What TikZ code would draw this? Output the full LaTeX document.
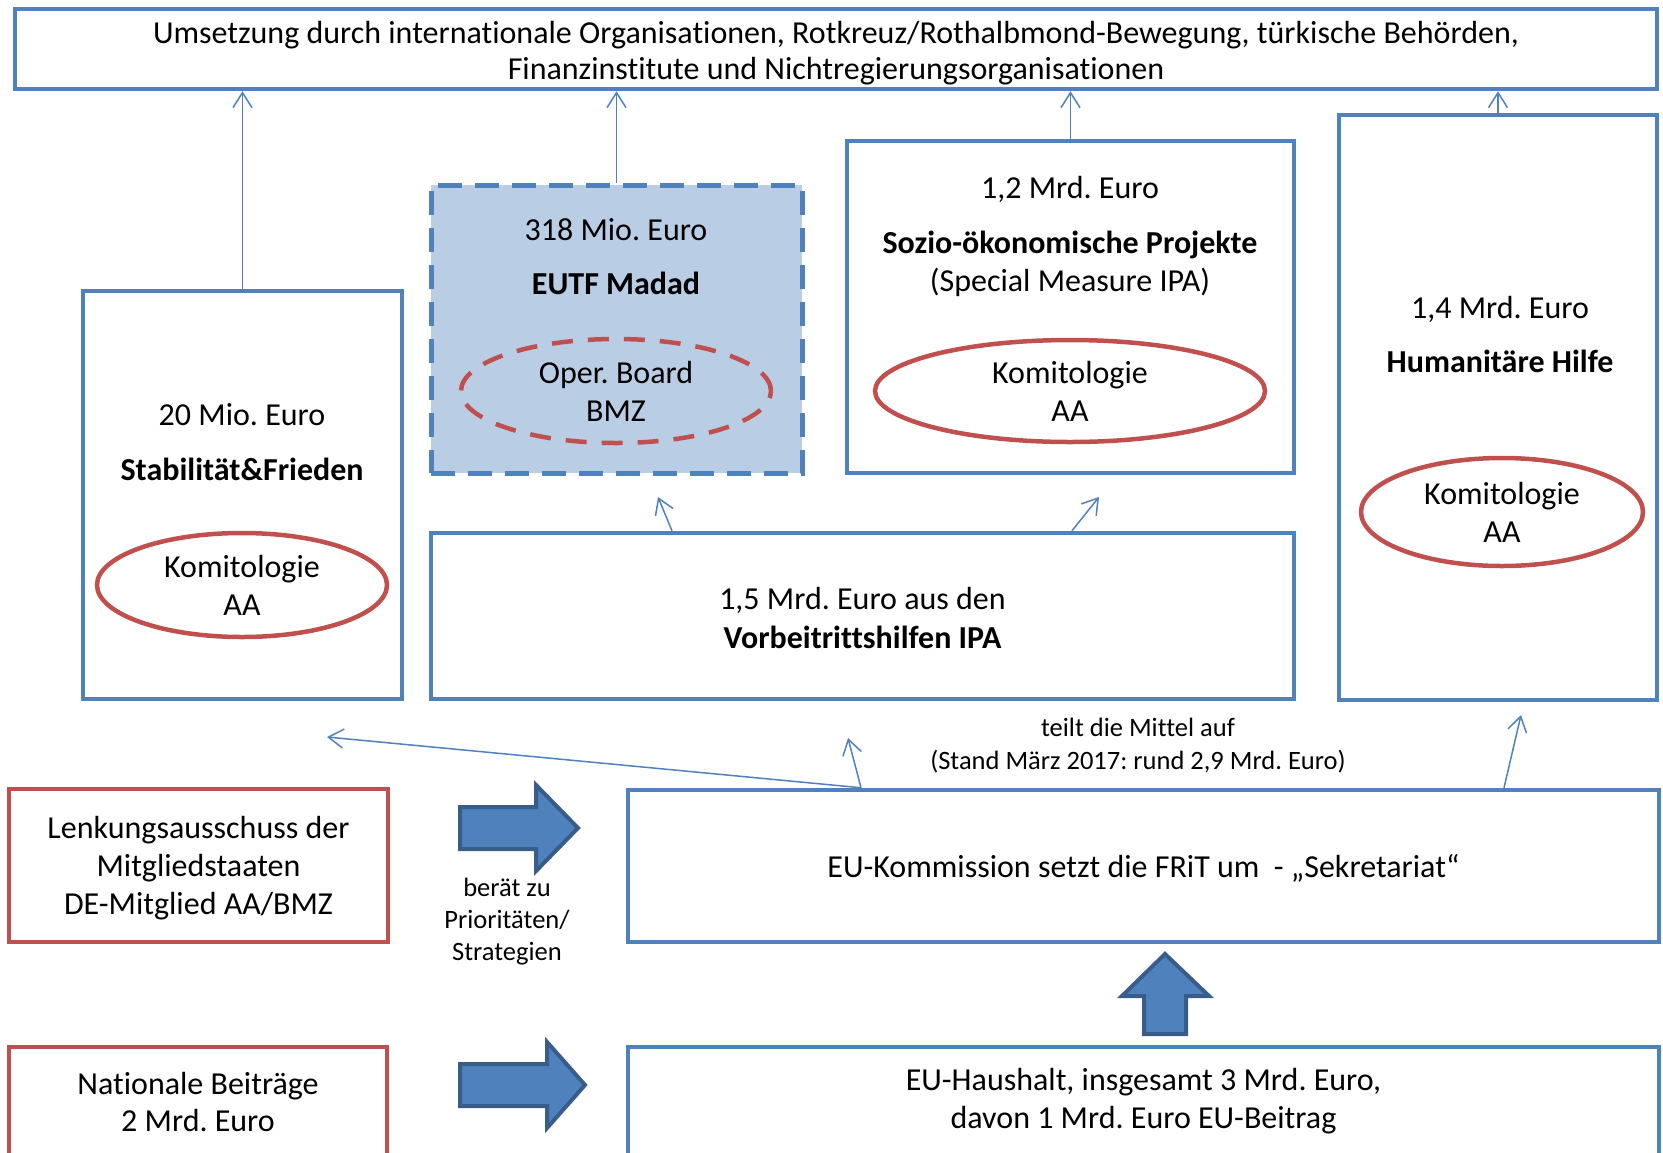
\documentclass[tikz,border=0pt]{standalone}
\usepackage{fontspec}
\setmainfont{Carlito}[Ligatures={TeX,NoCommon}]
\usetikzlibrary{arrows.meta,shapes.geometric,calc}
\definecolor{bl}{HTML}{4F81BD}
\definecolor{rd}{HTML}{C0504D}
\definecolor{lb}{HTML}{B9CDE5}
\definecolor{dbl}{HTML}{385D8A}
\frenchspacing
\begin{document}
\begin{tikzpicture}[x=1pt,y=-1pt,
 box/.style={draw=bl,line width=4.5pt,rectangle,inner sep=0pt,align=center,font=\fontsize{32}{37}\selectfont},
 rbox/.style={box,draw=rd},
 ell/.style={draw=rd,line width=4.5pt,ellipse,inner sep=0pt,align=center,font=\fontsize{32}{38}\selectfont},
 txt/.style={anchor=base,inner sep=0pt,font=\fontsize{32}{37}\selectfont},
 btxt/.style={anchor=base,inner sep=0pt,font=\fontsize{32}{37}\selectfont\bfseries},
 mtxt/.style={align=center,inner sep=0pt,font=\fontsize{32}{37}\selectfont},
 small/.style={align=center,inner sep=0pt,font=\fontsize{26.5}{33}\selectfont},
 arr/.style={draw=bl,line width=1.5pt,-{Straight Barb[length=15pt,width=19pt]}},
 blk/.style={fill=bl,draw=dbl,line width=4pt,line join=miter}
]
\useasboundingbox (0,0) rectangle (1663,1152);
\clip (0,0) rectangle (1663,1152);

% top box
\node[box,minimum width=1642pt,minimum height=80pt] (top) at (836,49) {};
\node[mtxt,font=\fontsize{32}{36}\selectfont] (topT) at (836,53)
 {Umsetzung durch internationale Organisationen, Rotkreuz/Rothalbmond-Bewegung, türkische Behörden,\\Finanzinstitute und Nichtregierungsorganisationen};

% Stabilitaet
\node[box,minimum width=319pt,minimum height=408pt] (stab) at (242.5,495) {};
\node[txt] (stabA) at (242,425) {20 Mio. Euro};
\node[btxt] (stabB) at (242,480) {Stabilität\&Frieden};
\node[ell,minimum width=290pt,minimum height=104pt] (stabE) at (242,585) {Komitologie\\AA};

% EUTF
\node[box,fill=lb,line width=5pt,dash pattern=on 24pt off 13pt,minimum width=371pt,minimum height=288pt] (eutf) at (616.5,329) {};
\node[txt] (eutfA) at (616,240) {318 Mio. Euro};
\node[btxt] (eutfB) at (616,294) {EUTF Madad};
\node[ell,dash pattern=on 21pt off 15pt,minimum width=310pt,minimum height=104pt] (eutfE) at (616,391) {Oper. Board\\BMZ};

% Sozio
\node[box,minimum width=447pt,minimum height=332pt] (sozio) at (1070.5,307) {};
\node[txt] (soA) at (1070,198) {1,2 Mrd. Euro};
\node[btxt] (soB) at (1070,253) {Sozio-ökonomische Projekte};
\node[txt] (soC) at (1070,291) {(Special Measure IPA)};
\node[ell,minimum width=390pt,minimum height=102pt] (soE) at (1070,391) {Komitologie\\AA};

% Humanitaere
\node[box,minimum width=318pt,minimum height=585pt] (hum) at (1498,407.5) {};
\node[txt] (humA) at (1500,318) {1,4 Mrd. Euro};
\node[btxt] (humB) at (1500,372) {Humanitäre Hilfe};
\node[ell,minimum width=282pt,minimum height=108pt] (humE) at (1502,512) {Komitologie\\AA};

% IPA
\node[box,minimum width=863pt,minimum height=166pt] (ipa) at (862.5,616) {};
\node[mtxt,font=\fontsize{32}{39}\selectfont] (ipaT) at (862.5,618)
 {1,5 Mrd. Euro aus den\\\textbf{Vorbeitrittshilfen IPA}};

% Kommission
\node[box,minimum width=1031pt,minimum height=152pt] (kom) at (1143.5,866) {};
\node[mtxt] (komT) at (1143.5,868) {EU-Kommission setzt die FRiT um\ \ - „Sekretariat“};

% Lenkungsausschuss
\node[rbox,minimum width=379pt,minimum height=153pt] (lenk) at (198.5,865.5) {};
\node[mtxt,font=\fontsize{32}{38}\selectfont] (lenkT) at (198.5,868)
 {Lenkungsausschuss der\\Mitgliedstaaten\\DE-Mitglied AA/BMZ};

% bottom row
\node[rbox,minimum width=378pt,minimum height=109pt] (nat) at (198,1101.5)
 {Nationale Beiträge\\2 Mrd. Euro};
\node[box,minimum width=1031pt,minimum height=109pt,font=\fontsize{32}{38}\selectfont] (haus) at (1143.5,1101.5)
 {EU-Haushalt, insgesamt 3 Mrd. Euro,\\davon 1 Mrd. Euro EU-Beitrag};

% labels
\node[small] (teilt) at (1138,746) {teilt die Mittel auf\\(Stand März 2017: rund 2,9 Mrd. Euro)};
\node[small,font=\fontsize{26.5}{32}\selectfont] (berat) at (507,922) {berät zu\\Prioritäten/\\Strategien};

% arrows to top
\draw[arr] (stab.north) -- (stab.north |- top.south);
\draw[arr] (eutf.north) -- (eutf.north |- top.south);
\draw[arr] (sozio.north) -- (sozio.north |- top.south);
\draw[arr] (hum.north) -- (hum.north |- top.south);

% IPA arrows
\coordinate (i1) at ($(ipa.north)+(-190.5,0)$);
\coordinate (i2) at ($(ipa.north)+(209.5,0)$);
\coordinate (ti1) at (658,497);
\coordinate (ti2) at (1099,497);
\draw[arr] (i1) -- (ti1);
\draw[arr] (i2) -- (ti2);

% Kommission arrows
\coordinate (k1) at ($(kom.north)+(-282.5,0)$);
\coordinate (k2) at ($(kom.north)+(360.5,0)$);
\coordinate (tS) at (327,737);
\coordinate (tI) at (848,738);
\coordinate (tH) at (1521,715);
\draw[arr] (k1) -- (tS);
\draw[arr] (k1) -- (tI);
\draw[arr] (k2) -- (tH);

% block arrows
\draw[blk] (460,807) -- (536,807) -- (536,785) -- (578,828) -- (536,871) -- (536,849) -- (460,849) -- cycle;
\draw[blk] (460,1064) -- (547,1064) -- (547,1042) -- (585,1085) -- (547,1128) -- (547,1106) -- (460,1106) -- cycle;
\draw[blk] (1144,1034) -- (1144,996) -- (1122,996) -- (1165,954) -- (1209,996) -- (1186,996) -- (1186,1034) -- cycle;
\end{tikzpicture}
\end{document}
